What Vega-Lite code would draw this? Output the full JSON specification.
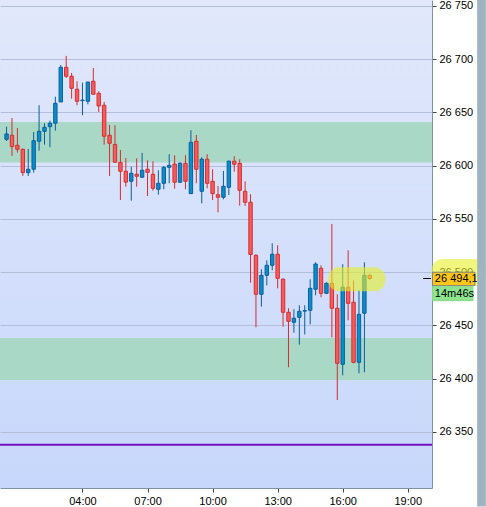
{
  "$schema": "https://vega.github.io/schema/vega-lite/v6.json",
  "width": 432,
  "height": 488,
  "autosize": {"type": "none"},
  "padding": {"left": 0, "top": 0, "right": 54, "bottom": 19},
  "background": "white",
  "config": {
    "font": "Liberation Sans",
    "view": {
      "stroke": null,
      "fill": {"gradient": "linear", "x1": 0, "y1": 0, "x2": 0, "y2": 1,
        "stops": [{"offset": 0, "color": "#e1e8fb"}, {"offset": 1, "color": "#c7d7fb"}]}
    }
  },
  "datasets": {
    "candles": [
      {"t":0.5,"o":26624.8,"h":26636.7,"l":26623.2,"c":26629.8},
      {"t":0.75,"o":26628.6,"h":26644.8,"l":26609.2,"c":26617.9},
      {"t":1.0,"o":26619.2,"h":26635.4,"l":26612.3,"c":26615.4},
      {"t":1.25,"o":26615.4,"h":26616.0,"l":26590.4,"c":26593.5},
      {"t":1.5,"o":26593.5,"h":26615.7,"l":26590.4,"c":26596.7},
      {"t":1.75,"o":26596.7,"h":26631.7,"l":26593.5,"c":26623.5},
      {"t":2.0,"o":26623.0,"h":26656.8,"l":26614.1,"c":26632.3},
      {"t":2.25,"o":26632.3,"h":26639.9,"l":26619.8,"c":26636.1},
      {"t":2.5,"o":26636.7,"h":26642.3,"l":26617.3,"c":26639.9},
      {"t":2.75,"o":26639.9,"h":26664.8,"l":26632.9,"c":26658.6},
      {"t":3.0,"o":26659.9,"h":26694.6,"l":26659.9,"c":26692.4},
      {"t":3.25,"o":26692.4,"h":26703.1,"l":26682.4,"c":26684.0},
      {"t":3.5,"o":26684.0,"h":26687.1,"l":26663.0,"c":26672.7},
      {"t":3.75,"o":26671.8,"h":26679.3,"l":26656.8,"c":26660.5},
      {"t":4.0,"o":26661.1,"h":26678.0,"l":26647.4,"c":26661.6},
      {"t":4.25,"o":26660.5,"h":26678.6,"l":26657.7,"c":26678.6},
      {"t":4.5,"o":26679.3,"h":26691.8,"l":26667.1,"c":26667.1},
      {"t":4.75,"o":26668.0,"h":26669.9,"l":26650.5,"c":26656.1},
      {"t":5.0,"o":26656.8,"h":26659.9,"l":26619.8,"c":26627.7},
      {"t":5.25,"o":26628.6,"h":26638.3,"l":26590.4,"c":26621.1},
      {"t":5.5,"o":26620.0,"h":26638.0,"l":26602.6,"c":26603.3},
      {"t":5.75,"o":26603.1,"h":26614.8,"l":26567.8,"c":26594.8},
      {"t":6.0,"o":26594.8,"h":26607.1,"l":26580.3,"c":26584.6},
      {"t":6.25,"o":26585.4,"h":26599.1,"l":26567.2,"c":26592.9},
      {"t":6.5,"o":26592.0,"h":26607.0,"l":26580.3,"c":26590.1},
      {"t":6.75,"o":26589.2,"h":26612.0,"l":26588.5,"c":26595.7},
      {"t":7.0,"o":26596.7,"h":26605.1,"l":26571.6,"c":26593.8},
      {"t":7.25,"o":26592.0,"h":26604.2,"l":26576.6,"c":26578.8},
      {"t":7.5,"o":26577.9,"h":26595.7,"l":26572.8,"c":26583.5},
      {"t":7.75,"o":26583.5,"h":26599.5,"l":26577.9,"c":26598.5},
      {"t":8.0,"o":26598.5,"h":26610.8,"l":26583.5,"c":26600.4},
      {"t":8.25,"o":26601.6,"h":26609.8,"l":26578.5,"c":26584.5},
      {"t":8.5,"o":26584.5,"h":26603.2,"l":26584.0,"c":26602.3},
      {"t":8.75,"o":26602.3,"h":26609.8,"l":26577.9,"c":26585.4},
      {"t":9.0,"o":26573.8,"h":26633.3,"l":26573.5,"c":26622.0},
      {"t":9.25,"o":26623.0,"h":26628.9,"l":26583.5,"c":26596.7},
      {"t":9.5,"o":26576.0,"h":26607.9,"l":26564.7,"c":26606.1},
      {"t":9.75,"o":26606.1,"h":26610.8,"l":26578.8,"c":26583.5},
      {"t":10.0,"o":26585.4,"h":26596.7,"l":26567.8,"c":26573.8},
      {"t":10.25,"o":26572.8,"h":26581.0,"l":26556.3,"c":26570.4},
      {"t":10.5,"o":26570.4,"h":26595.1,"l":26568.5,"c":26580.7},
      {"t":10.75,"o":26579.8,"h":26605.0,"l":26572.5,"c":26604.2},
      {"t":11.0,"o":26604.2,"h":26608.9,"l":26594.4,"c":26601.4},
      {"t":11.25,"o":26602.3,"h":26606.1,"l":26562.5,"c":26576.9},
      {"t":11.5,"o":26576.0,"h":26585.4,"l":26562.2,"c":26565.7},
      {"t":11.75,"o":26565.7,"h":26573.2,"l":26490.2,"c":26516.7},
      {"t":12.0,"o":26515.9,"h":26516.8,"l":26448.3,"c":26479.3},
      {"t":12.25,"o":26479.3,"h":26502.8,"l":26467.7,"c":26497.1},
      {"t":12.5,"o":26497.1,"h":26511.2,"l":26487.7,"c":26506.5},
      {"t":12.75,"o":26506.5,"h":26527.2,"l":26501.8,"c":26516.9},
      {"t":13.0,"o":26516.9,"h":26525.3,"l":26484.9,"c":26494.3},
      {"t":13.25,"o":26493.4,"h":26494.3,"l":26448.9,"c":26462.4},
      {"t":13.5,"o":26462.4,"h":26466.2,"l":26410.8,"c":26453.9},
      {"t":13.75,"o":26453.0,"h":26465.2,"l":26443.2,"c":26456.8},
      {"t":14.0,"o":26457.7,"h":26469.0,"l":26432.0,"c":26463.3},
      {"t":14.25,"o":26463.5,"h":26469.0,"l":26441.5,"c":26464.0},
      {"t":14.5,"o":26464.3,"h":26493.4,"l":26451.1,"c":26484.9},
      {"t":14.75,"o":26484.0,"h":26509.3,"l":26478.4,"c":26507.7},
      {"t":15.0,"o":26503.7,"h":26506.5,"l":26476.5,"c":26480.2},
      {"t":15.25,"o":26480.2,"h":26490.5,"l":26479.5,"c":26489.6},
      {"t":15.5,"o":26489.6,"h":26545.3,"l":26438.9,"c":26466.2},
      {"t":15.75,"o":26466.2,"h":26479.3,"l":26380.0,"c":26414.5},
      {"t":16.0,"o":26413.6,"h":26507.5,"l":26403.2,"c":26485.9},
      {"t":16.25,"o":26485.9,"h":26520.6,"l":26454.9,"c":26470.8},
      {"t":16.5,"o":26471.8,"h":26492.4,"l":26414.5,"c":26415.4},
      {"t":16.75,"o":26415.4,"h":26483.0,"l":26405.1,"c":26460.5},
      {"t":17.0,"o":26461.5,"h":26509.3,"l":26406.1,"c":26497.1},
      {"t":17.25,"o":26497.1,"h":26498.0,"l":26493.0,"c":26494.1}
    ],
    "bands": [{"lo":26603.0,"hi":26641.0},{"lo":26398.8,"hi":26438.3}],
    "levels": [{"p":26338.0}],
    "highlights": [{"x1":15.33,"x2":17.97,"y1":26482.1,"y2":26504.6},{"x1":20.1,"x2":22.6,"y1":26487.0,"y2":26512.4}],
    "boxes": [
      {"label":"26 494,1","x1":20.144,"x2":22.095,"y1":26487.4,"y2":26500.0,"tx":20.25,"ty":26493.8},
      {"label":"14m46s","x1":20.144,"x2":22.005,"y1":26473.3,"y2":26486.4,"tx":20.25,"ty":26479.9}
    ],
    "marker": [{"x1":19.71,"x2":20.07,"p":26494.1}],
    "frame": [{"x1":22.2,"x2":22.6,"y1":26280.0,"y2":26760.0}]
  },
  "layer": [
    {
      "data": {"name": "bands"},
      "mark": {"type": "rect", "color": "#a9d8c7"},
      "encoding": {
        "y": {"field": "lo", "type": "quantitative",
          "scale": {"domain": [26297.4, 26755.6], "nice": false, "zero": false},
          "axis": {"orient": "right", "values": [26350,26400,26450,26500,26550,26600,26650,26700,26750],
            "labelExpr": "replace(format(datum.value, ','), ',', ' ')",
            "title": null, "grid": true, "gridColor": "#b3bedb", "gridOpacity": 1, "gridWidth": 1,
            "domainColor": "#7d92a2", "domainWidth": 1, "tickColor": "#444", "tickSize": 4,
            "labelFontSize": 11, "labelColor": "#000", "labelPadding": 3, "labelFont": "Liberation Sans"}},
        "y2": {"field": "hi"}
      }
    },
    {
      "data": {"name": "levels"},
      "mark": {"type": "rule", "color": "#7010c0", "strokeWidth": 2},
      "encoding": {"y": {"field": "p", "type": "quantitative"}}
    },
    {
      "data": {"name": "candles"},
      "mark": {"type": "rule", "strokeWidth": 1},
      "encoding": {
        "x": {"field": "t", "type": "quantitative",
          "scale": {"domain": [0.428, 19.887], "nice": false, "zero": false},
          "axis": {"orient": "bottom", "values": [4,7,10,13,16,19],
            "labelExpr": "(datum.value < 10 ? '0' : '') + datum.value + ':00'",
            "title": null, "grid": false, "domainColor": "#7d92a2", "domainWidth": 1,
            "tickColor": "#444", "tickSize": 4, "labelFontSize": 11, "labelColor": "#000",
            "labelPadding": 3, "labelFont": "Liberation Sans"}},
        "y": {"field": "l", "type": "quantitative"},
        "y2": {"field": "h"},
        "color": {"condition": {"test": "datum.c >= datum.o", "value": "#0a5f9c"}, "value": "#d42e2e"}
      }
    },
    {
      "data": {"name": "candles"},
      "mark": {"type": "bar", "width": 3.4, "strokeWidth": 1},
      "encoding": {
        "x": {"field": "t", "type": "quantitative"},
        "y": {"field": "o", "type": "quantitative"},
        "y2": {"field": "c"},
        "fill": {"condition": {"test": "datum.c >= datum.o", "value": "#0a8dcb"}, "value": "#f75c5c"},
        "stroke": {"condition": {"test": "datum.c >= datum.o", "value": "#0a5f9c"}, "value": "#d42e2e"}
      }
    },
    {
      "data": {"name": "highlights"},
      "mark": {"type": "rect", "color": "#e6f028", "opacity": 0.6, "cornerRadius": 11},
      "encoding": {
        "x": {"field": "x1", "type": "quantitative"},
        "x2": {"field": "x2"},
        "y": {"field": "y1", "type": "quantitative"},
        "y2": {"field": "y2"}
      }
    },
    {
      "data": {"name": "marker"},
      "mark": {"type": "rule", "color": "#000", "strokeWidth": 1},
      "encoding": {
        "x": {"field": "x1", "type": "quantitative"},
        "x2": {"field": "x2"},
        "y": {"field": "p", "type": "quantitative"}
      }
    },
    {
      "data": {"name": "boxes"},
      "mark": {"type": "rect", "strokeWidth": 1},
      "encoding": {
        "x": {"field": "x1", "type": "quantitative"},
        "x2": {"field": "x2"},
        "y": {"field": "y1", "type": "quantitative"},
        "y2": {"field": "y2"},
        "fill": {"field": "label", "type": "nominal", "scale": {"domain": ["26 494,1", "14m46s"], "range": ["#ffc61a", "#8fe48f"]}, "legend": null},
        "stroke": {"field": "label", "type": "nominal", "scale": {"domain": ["26 494,1", "14m46s"], "range": ["#7f7f7f", "#86d886"]}, "legend": null}
      }
    },
    {
      "data": {"name": "boxes"},
      "mark": {"type": "text", "align": "left", "baseline": "middle", "fontSize": 11, "font": "Liberation Sans", "color": "#000"},
      "encoding": {
        "x": {"field": "tx", "type": "quantitative"},
        "y": {"field": "ty", "type": "quantitative"},
        "text": {"field": "label"}
      }
    },
    {
      "data": {"name": "frame"},
      "mark": {"type": "rect", "color": "#9fb3c0"},
      "encoding": {
        "x": {"field": "x1", "type": "quantitative"},
        "x2": {"field": "x2"},
        "y": {"field": "y1", "type": "quantitative"},
        "y2": {"field": "y2"}
      }
    }
  ]
}
